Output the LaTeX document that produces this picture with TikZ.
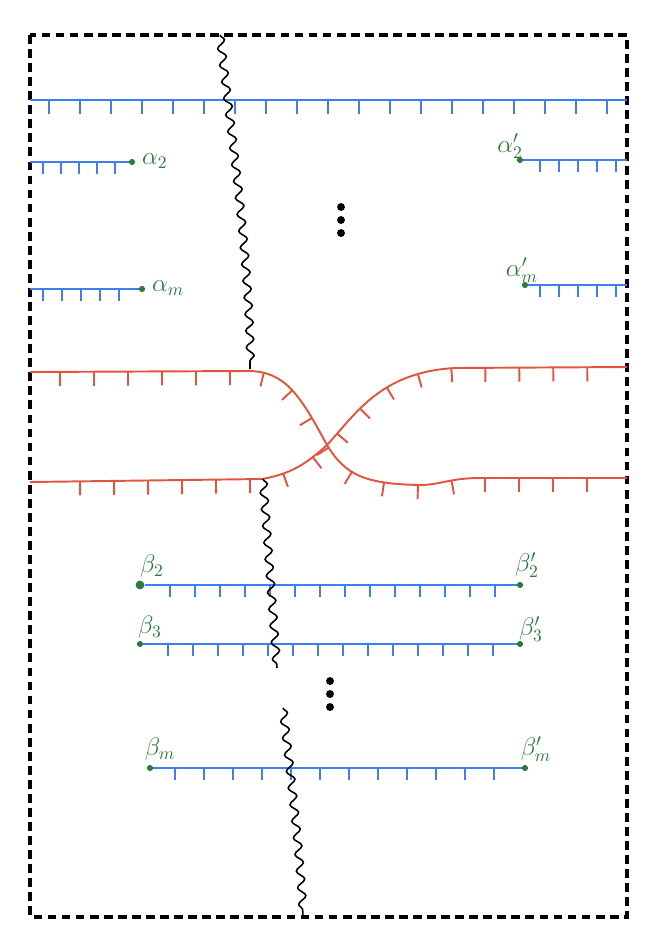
\documentclass[tikz,border=0pt]{standalone}
\usepackage{xcolor}
\usepackage{tikz}
\usetikzlibrary{decorations.pathmorphing, decorations.markings}

\definecolor{cutblue}{HTML}{3D80EC}
\definecolor{cutred}{HTML}{E2553D}
\definecolor{labgreen}{HTML}{2B7A3E}

\begin{document}
\begin{tikzpicture}[
    x=0.02cm,
    y=-0.02cm,
    frame/.style={
        draw,
        dash pattern=on 5pt off 3pt,
        line width=2pt
    },
    hairs/.style n args={4}{
        decoration={markings,
            mark=between positions #1 and #2 step #3 with {\draw (0pt,0pt) -- (0pt,-#4);}},
        postaction={decorate}
    },
    bluecut/.style={
        color=cutblue,
        line width=1.1pt
    },
    redcut/.style={
        color=cutred,
        line width=1.1pt
    },
    wiggle/.style={
        draw,
        line width=0.9pt,
        decorate,
        decoration={snake, amplitude=2.2pt, segment length=9.5pt}
    },
    endpt/.style={
        circle,
        fill=labgreen,
        inner sep=0pt,
        minimum size=3.5pt
    },
    lab/.style={
        text=labgreen,
        font=\Large,
        inner sep=1pt
    },
    vdot/.style={
        circle,
        fill=black,
        inner sep=0pt,
        minimum size=4.5pt
    }
]

\useasboundingbox (0,0) rectangle (662,944);

% frame
\draw[frame] (30,35) rectangle (627,917);

% top blue cut
\coordinate (topL) at (30,100);
\coordinate (topR) at (627,100);
\draw[bluecut, hairs={0.38cm}{-0.2cm}{0.62cm}{8pt}] (topL) -- (topR);

% alpha cuts
\coordinate (a2L) at (30,162);
\node[endpt] (a2) at (132,162) {};
\node[lab, anchor=west] (a2lab) at (140,161) {$\alpha_2$};
\draw[bluecut, hairs={0.26cm}{-0.2cm}{0.36cm}{7pt}] (a2L) -- (a2);

\coordinate (amL) at (30,289);
\node[endpt] (am) at (142,289) {};
\node[lab, anchor=west] (amlab) at (150,288) {$\alpha_m$};
\draw[bluecut, hairs={0.26cm}{-0.2cm}{0.38cm}{7pt}] (amL) -- (am);

\coordinate (a2R) at (627,160);
\node[endpt] (a2p) at (520,160) {};
\node[lab] (a2plab) at (510,146) {$\alpha'_2$};
\draw[bluecut, hairs={0.34cm}{-0.2cm}{0.38cm}{7pt}] (a2p) -- (a2R);

\coordinate (amR) at (627,285);
\node[endpt] (amp) at (525,285) {};
\node[lab] (amplab) at (522,270) {$\alpha'_m$};
\draw[bluecut, hairs={0.24cm}{-0.2cm}{0.38cm}{7pt}] (amp) -- (amR);

\node[vdot] (dt1) at (341,207) {};
\node[vdot] (dt2) at (341,220) {};
\node[vdot] (dt3) at (341,233) {};

% red cuts
\coordinate (rA1) at (30,372);
\coordinate (rA2) at (627,478);
\coordinate (rB1) at (30,482);
\coordinate (rB2) at (627,367);
\coordinate (cross) at (327,445);
\draw[redcut, hairs={0.6cm}{-0.3cm}{0.68cm}{8pt}]
    (rA1) -- (248,371) .. controls (285,371) and (300,395) .. (cross)
    .. controls (345,475) and (365,484) .. (420,485)
    .. controls (440,485) and (450,478) .. (480,478) -- (rA2);
\draw[redcut, hairs={1.0cm}{-0.3cm}{0.68cm}{8pt}]
    (rB1) -- (262,479) .. controls (290,474) and (305,465) .. (cross)
    .. controls (355,415) and (380,372) .. (455,368) -- (rB2);

% top wiggle
\coordinate (w1a) at (220,35);
\coordinate (w1b) at (250,369);
\draw[wiggle] (w1a) .. controls (232,140) and (250,260) .. (w1b);

% beta cuts
\node[endpt, minimum size=5pt] (b2) at (140,585) {};
\node[endpt] (b2p) at (520,585) {};
\node[lab] (b2lab) at (152,566) {$\beta_2$};
\node[lab] (b2plab) at (527,565) {$\beta'_2$};
\draw[bluecut, hairs={0.5cm}{-0.3cm}{0.5cm}{7pt}] (b2) -- (b2p);

\node[endpt] (b3) at (140,644) {};
\node[endpt] (b3p) at (520,644) {};
\node[lab] (b3lab) at (150,627) {$\beta_3$};
\node[lab] (b3plab) at (531,629) {$\beta'_3$};
\draw[bluecut, hairs={0.5cm}{-0.3cm}{0.5cm}{7pt}] (b3) -- (b3p);

\node[vdot] (db1) at (330,681) {};
\node[vdot] (db2) at (330,694) {};
\node[vdot] (db3) at (330,707) {};

\node[endpt] (bm) at (150,768) {};
\node[endpt] (bmp) at (525,768) {};
\node[lab] (bmlab) at (160,749) {$\beta_m$};
\node[lab] (bmplab) at (536,749) {$\beta'_m$};
\draw[bluecut, hairs={0.44cm}{-0.3cm}{0.58cm}{7pt}] (bm) -- (bmp);

% lower wiggles
\coordinate (w2a) at (263,479);
\coordinate (w2b) at (277,668);
\draw[wiggle] (w2a) -- (w2b);
\coordinate (w3a) at (283,708);
\coordinate (w3b) at (303,917);
\draw[wiggle] (w3a) .. controls (290,770) and (300,850) .. (w3b);

\end{tikzpicture}
\end{document}
